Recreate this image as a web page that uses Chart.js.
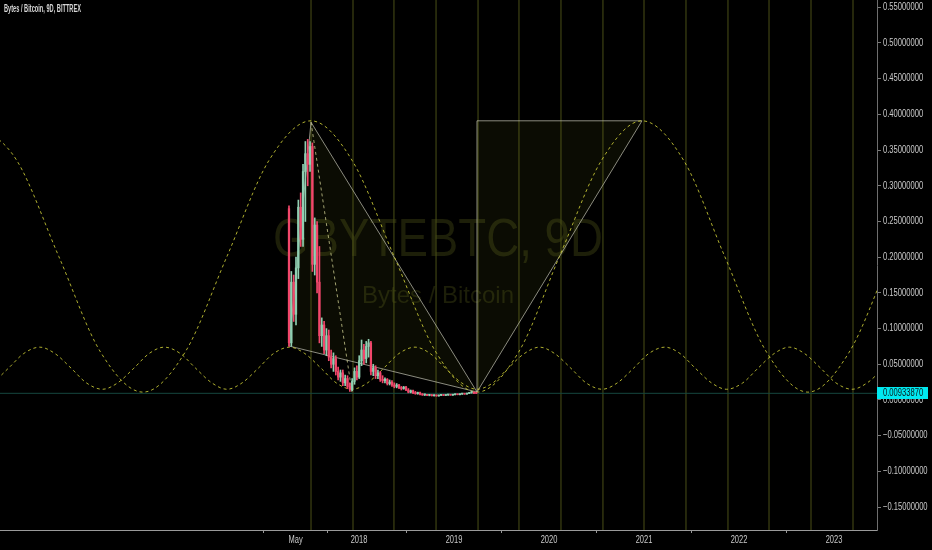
<!DOCTYPE html>
<html>
<head>
<meta charset="utf-8">
<script src="https://cdn.jsdelivr.net/npm/chart.js@4.4.1/dist/chart.umd.min.js"></script>
<style>
  html, body { margin: 0; padding: 0; background: #000; }
  canvas { display: block; }
</style>
</head>
<body>
<canvas id="chart" width="932" height="550"></canvas>
<script>
// x values are decimal years, y values are prices in BTC
const xMin = 2014.2211, xMax = 2023.4526;
const yMin = -0.1821, yMax = 0.5602;

const xTickValues = [2017.333, 2018, 2019, 2020, 2021, 2022, 2023];
const xTickLabels = ['May', '2018', '2019', '2020', '2021', '2022', '2023'];

const lastPrice = 0.0093387;

// 9D candles, first one in early April 2017
const firstBar = 2017.263;
const barDays = 9;
const candleOpen = [0.268, 0.080, 0.165, 0.120, 0.185, 0.270, 0.225, 0.320, 0.345, 0.330,
  0.355, 0.190, 0.245, 0.165, 0.090, 0.105, 0.070, 0.090, 0.060, 0.050,
  0.058, 0.040, 0.032, 0.038, 0.024, 0.030, 0.019, 0.015, 0.026, 0.040,
  0.032, 0.055, 0.070, 0.058, 0.075, 0.080, 0.040, 0.045, 0.034, 0.038,
  0.029, 0.027, 0.029, 0.023, 0.025, 0.021, 0.019, 0.021, 0.017, 0.016,
  0.018, 0.014, 0.011, 0.013, 0.010, 0.009, 0.010, 0.008, 0.007, 0.0075,
  0.0065, 0.0072, 0.006, 0.0068, 0.0058, 0.0065, 0.007, 0.0064, 0.007, 0.0074,
  0.0068, 0.0075, 0.008, 0.0074, 0.0083, 0.0088, 0.0082, 0.0092, 0.010, 0.011, 0.0095];
const candleHigh = [0.272, 0.180, 0.175, 0.200, 0.280, 0.290, 0.330, 0.362, 0.365, 0.362,
  0.360, 0.255, 0.250, 0.215, 0.115, 0.110, 0.100, 0.098, 0.070, 0.066,
  0.062, 0.046, 0.042, 0.042, 0.035, 0.034, 0.024, 0.030, 0.045, 0.048,
  0.062, 0.084, 0.078, 0.082, 0.085, 0.082, 0.050, 0.048, 0.042, 0.040,
  0.034, 0.031, 0.030, 0.028, 0.027, 0.024, 0.023, 0.022, 0.019, 0.019,
  0.019, 0.016, 0.014, 0.014, 0.012, 0.011, 0.011, 0.009, 0.0085, 0.008,
  0.0078, 0.0076, 0.0072, 0.007, 0.0068, 0.0075, 0.0074, 0.0072, 0.0078, 0.0076,
  0.0078, 0.0082, 0.0083, 0.0085, 0.009, 0.009, 0.0095, 0.0105, 0.012, 0.0115, 0.010];
const candleLow = [0.075, 0.075, 0.110, 0.105, 0.170, 0.215, 0.215, 0.250, 0.300, 0.320,
  0.180, 0.175, 0.150, 0.080, 0.075, 0.065, 0.062, 0.055, 0.045, 0.040,
  0.035, 0.028, 0.026, 0.020, 0.020, 0.016, 0.012, 0.013, 0.022, 0.028,
  0.030, 0.048, 0.050, 0.052, 0.060, 0.035, 0.034, 0.030, 0.030, 0.026,
  0.024, 0.024, 0.021, 0.021, 0.019, 0.017, 0.017, 0.016, 0.014, 0.015,
  0.013, 0.010, 0.010, 0.009, 0.008, 0.008, 0.007, 0.0065, 0.0062, 0.006,
  0.0058, 0.0055, 0.0055, 0.0052, 0.0052, 0.006, 0.006, 0.006, 0.0065, 0.0066,
  0.0064, 0.007, 0.0072, 0.0072, 0.0078, 0.008, 0.008, 0.0088, 0.0095, 0.009, 0.009];
const candleClose = [0.080, 0.165, 0.120, 0.185, 0.270, 0.225, 0.320, 0.345, 0.330, 0.355,
  0.190, 0.245, 0.165, 0.090, 0.105, 0.070, 0.090, 0.060, 0.050, 0.058,
  0.040, 0.032, 0.038, 0.024, 0.030, 0.019, 0.015, 0.026, 0.040, 0.032,
  0.055, 0.070, 0.058, 0.075, 0.080, 0.040, 0.045, 0.034, 0.038, 0.029,
  0.027, 0.029, 0.023, 0.025, 0.021, 0.019, 0.021, 0.017, 0.016, 0.018,
  0.014, 0.011, 0.013, 0.010, 0.009, 0.010, 0.008, 0.007, 0.0075, 0.0065,
  0.0072, 0.006, 0.0068, 0.0058, 0.0065, 0.007, 0.0064, 0.007, 0.0074, 0.0068,
  0.0075, 0.008, 0.0074, 0.0083, 0.0088, 0.0082, 0.0092, 0.010, 0.011, 0.0095, 0.0093387];

// cyclic vertical lines
const cycleLines = [2017.495, 2017.937, 2018.368, 2018.811, 2019.253, 2019.684, 2020.126,
  2020.568, 2021.000, 2021.442, 2021.884, 2022.316, 2022.758, 2023.200];

// large sine line (dashed)
const bigWaveX = [2013.96, 2014.40, 2014.84, 2015.28, 2015.726, 2016.17, 2016.61, 2017.05, 2017.495,
  2017.93, 2018.37, 2018.81, 2019.242, 2019.68, 2020.11, 2020.55, 2020.979,
  2021.42, 2021.85, 2022.29, 2022.726, 2023.16, 2023.60, 2024.04, 2024.47];
const bigWaveY = [0.391, 0.335, 0.201, 0.067, 0.011, 0.067, 0.201, 0.335, 0.391,
  0.335, 0.201, 0.067, 0.011, 0.067, 0.201, 0.335, 0.391,
  0.335, 0.201, 0.067, 0.011, 0.067, 0.201, 0.335, 0.391];

// small sine line (dashed)
const smallWaveX = [2013.98, 2014.14, 2014.31, 2014.47, 2014.64, 2014.80, 2014.97, 2015.13,
  2015.30, 2015.46, 2015.63, 2015.79, 2015.95, 2016.12, 2016.28, 2016.45,
  2016.61, 2016.77, 2016.94, 2017.10, 2017.27, 2017.43, 2017.60, 2017.76,
  2017.93, 2018.09, 2018.26, 2018.42, 2018.59, 2018.75, 2018.91, 2019.08,
  2019.24, 2019.41, 2019.57, 2019.74, 2019.90, 2020.06, 2020.23, 2020.39,
  2020.56, 2020.72, 2020.89, 2021.05, 2021.22, 2021.38, 2021.54, 2021.71,
  2021.87, 2022.04, 2022.20, 2022.37, 2022.53, 2022.69, 2022.86, 2023.02,
  2023.19, 2023.35, 2023.52];
const smallWaveY = [0.015, 0.024, 0.0445, 0.065, 0.074, 0.065, 0.0445, 0.024,
  0.015, 0.024, 0.0445, 0.065, 0.074, 0.065, 0.0445, 0.024,
  0.015, 0.024, 0.0445, 0.065, 0.074, 0.065, 0.0445, 0.024,
  0.015, 0.024, 0.0445, 0.065, 0.074, 0.065, 0.0445, 0.024,
  0.015, 0.024, 0.0445, 0.065, 0.074, 0.065, 0.0445, 0.024,
  0.015, 0.024, 0.0445, 0.065, 0.074, 0.065, 0.0445, 0.024,
  0.015, 0.024, 0.0445, 0.065, 0.074, 0.065, 0.0445, 0.024,
  0.015, 0.024, 0.0445];

// drawings
const dashLineX = [2017.495, 2017.926];
const dashLineY = [0.389, 0.011];
const triangleLeftX = [2017.495, 2017.263, 2019.242, 2017.495];
const triangleLeftY = [0.389, 0.0756, 0.0112, 0.389];
const triangleRightX = [2019.242, 2019.242, 2020.979, 2019.242];
const triangleRightY = [0.0112, 0.391, 0.391, 0.0112];

const upColor = '#8fcfb2';
const downColor = '#f2476b';
const waveColor = 'rgba(205, 205, 55, 0.85)';
const cycleColor = '#4a4f17';
const drawLineColor = 'rgba(195, 195, 180, 0.7)';
const drawFill = 'rgba(125, 135, 40, 0.085)';
const axisText = '#c9c9c9';

const toPoints = (xs, ys) => xs.map((x, i) => ({ x: x, y: ys[i] }));

const barX = candleOpen.map((_, i) => firstBar + i * barDays / 365.25);
const bodies = barX.map((x, i) => ({ x: x, y: [candleOpen[i], candleClose[i]] }));
const wicks = barX.map((x, i) => ({ x: x, y: [candleLow[i], candleHigh[i]] }));
const candleColors = candleOpen.map((o, i) => candleClose[i] >= o ? upColor : downColor);

const cyclePoints = [];
cycleLines.forEach(v => {
    cyclePoints.push({ x: v, y: yMin }, { x: v, y: yMax }, { x: v, y: null });
});

// squeezed text, the reference font is narrow
function narrowText(ctx, text, x, y, sx) {
    ctx.save();
    ctx.translate(x, y);
    ctx.scale(sx, 1);
    ctx.fillText(text, 0, 0);
    ctx.restore();
}

function fitText(ctx, text, x, y, width) {
    const w = ctx.measureText(text).width;
    narrowText(ctx, text, x, y, width / w);
}

const overlay = {
    id: 'overlay',
    beforeDatasetsDraw(chart) {
        const ctx = chart.ctx;
        ctx.save();
        ctx.fillStyle = '#1d1f09';
        ctx.textAlign = 'center';
        ctx.textBaseline = 'middle';
        ctx.font = '54px Arial, "Liberation Sans", sans-serif';
        fitText(ctx, 'GBYTEBTC, 9D', 438, 241, 330);
        ctx.font = '24px Arial, "Liberation Sans", sans-serif';
        ctx.fillText('Bytes / Bitcoin', 438, 296);
        ctx.restore();
    },
    afterDraw(chart) {
        const ctx = chart.ctx;
        const ys = chart.scales.y;
        const xs = chart.scales.x;
        ctx.save();
        ctx.font = '10px Arial, "Liberation Sans", sans-serif';
        ctx.fillStyle = axisText;
        ctx.textBaseline = 'middle';
        ctx.textAlign = 'left';
        ys.ticks.forEach(t => {
            const v = t.value;
            const s = (v < -1e-9 ? '\u2212' : '') + Math.abs(v).toFixed(8);
            narrowText(ctx, s, ys.left + 6, ys.getPixelForValue(v), 0.76);
        });
        ctx.textAlign = 'center';
        xTickValues.forEach((v, i) => {
            narrowText(ctx, xTickLabels[i], xs.getPixelForValue(v), 540, 0.75);
        });

        // last price label
        const py = Math.round(ys.getPixelForValue(lastPrice));
        ctx.fillStyle = '#00e8f0';
        ctx.fillRect(ys.left, py - 6, 51, 12);
        ctx.fillStyle = '#0a1a1a';
        ctx.textAlign = 'left';
        narrowText(ctx, lastPrice.toFixed(8), ys.left + 6, py, 0.76);

        // title
        ctx.fillStyle = '#d6d6d6';
        ctx.font = 'bold 10px Arial, "Liberation Sans", sans-serif';
        fitText(ctx, 'Bytes / Bitcoin, 9D, BITTREX', 4, 9, 77);
        ctx.restore();
    }
};

const lineBase = {
    type: 'line',
    pointRadius: 0,
    borderWidth: 1,
    fill: false,
    tension: 0
};

new Chart(document.getElementById('chart'), {
    type: 'line',
    data: {
        datasets: [
            { type: 'bar', data: bodies, backgroundColor: candleColors, barThickness: 1.6,
              grouped: false, minBarLength: 1, borderWidth: 0, order: 0 },
            { type: 'bar', data: wicks, backgroundColor: candleColors, barThickness: 1,
              grouped: false, borderWidth: 0, order: 1 },
            Object.assign({}, lineBase, { data: toPoints(triangleLeftX, triangleLeftY),
              borderColor: drawLineColor, backgroundColor: drawFill, fill: 'shape', order: 3 }),
            Object.assign({}, lineBase, { data: toPoints(triangleRightX, triangleRightY),
              borderColor: drawLineColor, backgroundColor: drawFill, fill: 'shape', order: 3 }),
            Object.assign({}, lineBase, { data: toPoints(dashLineX, dashLineY),
              borderColor: 'rgba(200, 200, 140, 0.8)', borderDash: [3, 3], order: 2 }),
            Object.assign({}, lineBase, { data: toPoints(bigWaveX, bigWaveY),
              borderColor: waveColor, borderDash: [3, 3], cubicInterpolationMode: 'monotone', order: 2 }),
            Object.assign({}, lineBase, { data: toPoints(smallWaveX, smallWaveY),
              borderColor: waveColor, borderDash: [3, 3], cubicInterpolationMode: 'monotone', order: 2 }),
            Object.assign({}, lineBase, { data: [{ x: xMin, y: lastPrice }, { x: xMax, y: lastPrice }],
              borderColor: '#15463f', order: 6 }),
            Object.assign({}, lineBase, { data: cyclePoints, borderColor: cycleColor,
              spanGaps: false, order: 7 })
        ]
    },
    options: {
        responsive: false,
        animation: false,
        events: [],
        layout: { padding: 0 },
        plugins: {
            legend: { display: false },
            tooltip: { enabled: false }
        },
        scales: {
            x: {
                type: 'linear',
                min: xMin,
                max: xMax,
                offset: false,
                afterBuildTicks(scale) {
                    scale.ticks = xTickValues.map(v => ({ value: v }));
                },
                afterFit(scale) { scale.height = 20; },
                ticks: { display: false },
                grid: { drawOnChartArea: false, drawTicks: true, tickLength: 3, color: '#9a9a9a' },
                border: { color: '#9a9a9a' }
            },
            y: {
                type: 'linear',
                position: 'right',
                min: yMin,
                max: yMax,
                afterFit(scale) { scale.width = 55; },
                ticks: { display: false, stepSize: 0.05, includeBounds: false },
                grid: { drawOnChartArea: false, drawTicks: true, tickLength: 4, color: '#7a7a7a' },
                border: { color: '#6e6e6e' }
            }
        }
    },
    plugins: [overlay]
});
</script>
</body>
</html>
